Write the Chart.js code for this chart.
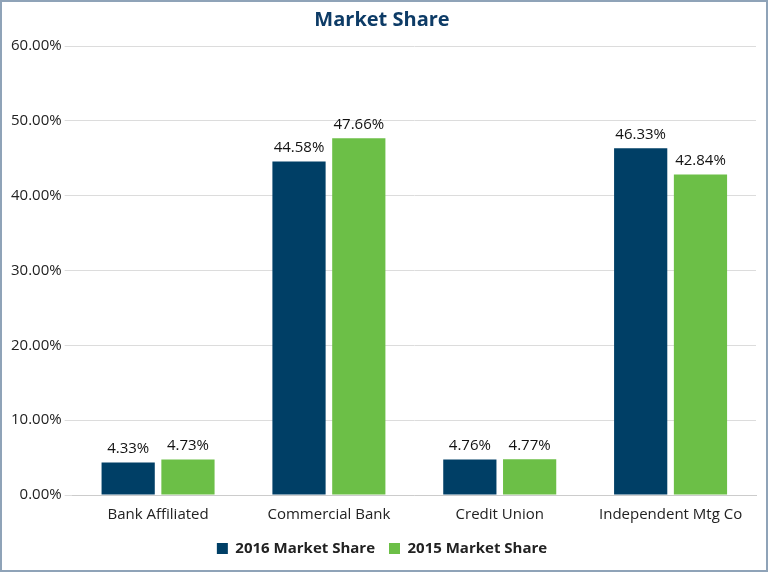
<!DOCTYPE html>
<html><head><meta charset="utf-8">
<script src="https://cdn.jsdelivr.net/npm/chart.js@4"></script>
<style>
html,body{margin:0;padding:0;background:#fff;}
#wrap{position:absolute;left:0;top:0;width:764px;height:568px;border:2px solid #8fa3b8;}
</style></head><body>
<div id="wrap"><canvas id="c"></canvas></div>
<script>
const categories = ["Bank Affiliated","Commercial Bank","Credit Union","Independent Mtg Co"];
const share2016 = [4.33,44.58,4.76,46.33];
const share2015 = [4.73,47.66,4.77,42.84];
const seriesNames = ["2016 Market Share","2015 Market Share"];
const labelPlugin = {id:'lbl',afterDatasetsDraw(chart){
  const ctx=chart.ctx;ctx.save();ctx.font='15px "Open Sans", sans-serif';ctx.fillStyle='#111';ctx.textAlign='center';ctx.textBaseline='bottom';
  chart.data.datasets.forEach((ds,i)=>{chart.getDatasetMeta(i).data.forEach((b,j)=>{ctx.fillText(ds.data[j].toFixed(2)+'%',b.x,b.y-6);});});
  ctx.restore();}};
new Chart(document.getElementById('c'),{type:'bar',
data:{labels:categories,datasets:[
 {label:seriesNames[0],data:share2016,backgroundColor:'#003f66',categoryPercentage:0.7,barPercentage:0.89},
 {label:seriesNames[1],data:share2015,backgroundColor:'#6cbf47',categoryPercentage:0.7,barPercentage:0.89}]},
options:{responsive:true,maintainAspectRatio:false,animation:false,
 layout:{padding:{left:6,right:10,top:0,bottom:4}},
 plugins:{title:{display:true,text:'Market Share',color:'#0d3b66',font:{size:20,weight:'bold',family:'"Open Sans", sans-serif'},padding:{top:6,bottom:14}},
  legend:{position:'bottom',labels:{boxWidth:11,boxHeight:11,color:'#222',font:{size:15,weight:'bold',family:'"Open Sans", sans-serif'},padding:14}},
  tooltip:{enabled:false}},
 scales:{x:{grid:{display:false},border:{color:'#ccc'},ticks:{color:'#222',font:{size:15,family:'"Open Sans", sans-serif'}}},
  y:{min:0,max:60,ticks:{stepSize:10,color:'#222',font:{size:15,family:'"Open Sans", sans-serif'},callback:v=>v.toFixed(2)+'%'},grid:{color:'#dcdcdc'},border:{display:false}}}},
plugins:[labelPlugin]});
</script></body></html>
